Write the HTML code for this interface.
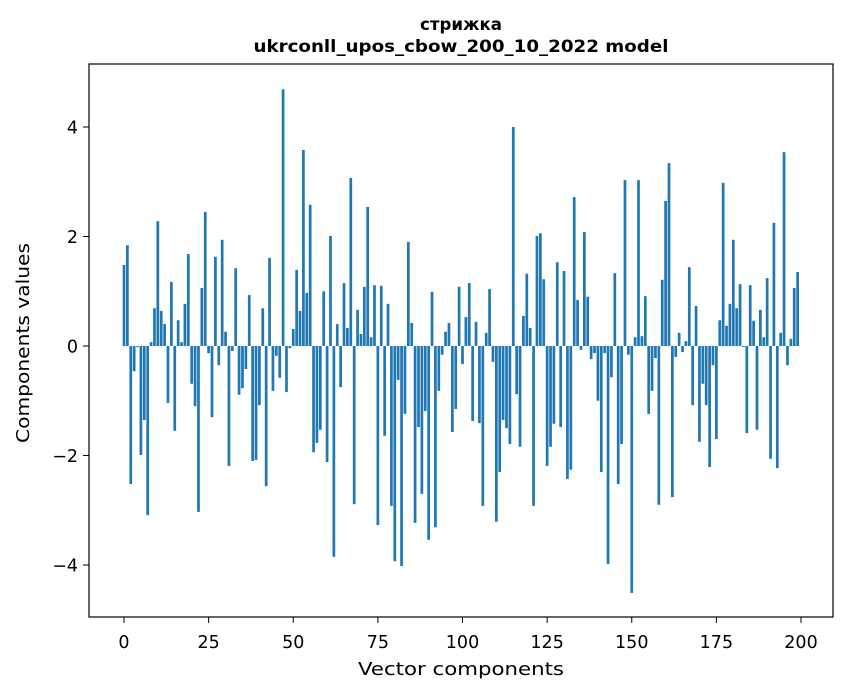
<!DOCTYPE html>
<html><head><meta charset="utf-8"><style>
body{margin:0;background:#fff;width:847px;height:696px;overflow:hidden}
svg{display:block;font-family:"DejaVu Sans","Liberation Sans",sans-serif}
</style></head><body>
<svg id="chart" width="847" height="696">
<text x="461" y="30" text-anchor="middle" font-size="17" font-weight="bold" textLength="82" lengthAdjust="spacingAndGlyphs">стрижка</text>
<text x="461" y="52" text-anchor="middle" font-size="17" font-weight="bold" textLength="415" lengthAdjust="spacingAndGlyphs">ukrconll_upos_cbow_200_10_2022 model</text>
<g id="bars"></g>
<rect x="89" y="64" width="744" height="553" fill="none" stroke="#000" stroke-width="1.2"/>
<g id="xt"></g>
<g id="yt"></g>
<text x="461" y="675" text-anchor="middle" font-size="17.5" textLength="206" lengthAdjust="spacingAndGlyphs">Vector components</text>
<text transform="translate(29,343) rotate(-90)" text-anchor="middle" font-size="17.5" textLength="200" lengthAdjust="spacingAndGlyphs">Components values</text>
</svg>
<script>
const values=[1.48,1.84,-2.52,-0.46,-0.02,-1.99,-1.35,-3.09,0.07,0.69,
2.28,0.64,0.40,-1.04,1.17,-1.55,0.47,0.07,0.77,1.68,
-0.69,-1.10,-3.03,1.06,2.45,-0.13,-1.30,1.63,-0.35,1.94,
0.26,-2.19,-0.09,1.42,-0.89,-0.77,-0.42,0.93,-2.10,-2.08,
-1.08,0.69,-2.56,1.61,-0.82,-0.18,-0.58,4.69,-0.84,-0.04,
0.31,1.39,0.64,3.58,0.97,2.58,-1.94,-1.77,-1.53,1.00,
-2.12,2.01,-3.85,0.40,-0.75,1.15,0.33,3.07,-2.89,0.66,
0.22,1.08,2.54,0.16,1.11,-3.27,1.10,-1.64,0.77,-2.92,
-3.93,-0.62,-4.02,-1.24,1.90,0.42,-3.23,-1.48,-2.70,-1.19,
-3.54,0.99,-3.31,-0.82,-0.16,0.26,0.42,-1.57,-1.15,1.08,
-0.33,0.53,1.15,-1.37,0.44,-1.41,-2.92,0.24,1.04,-0.29,
-3.21,-2.30,-1.35,-1.50,-1.79,4.00,-0.88,-1.84,0.55,1.32,
0.33,-2.92,2.01,2.06,1.22,-2.19,-1.84,-1.42,1.53,-1.48,
1.37,-2.43,-2.26,2.72,0.84,-0.07,2.08,0.90,-0.24,-0.13,
-1.00,-2.30,-0.13,-3.98,-0.57,1.33,-2.52,-1.79,3.03,-0.16,
-4.51,0.16,3.03,0.18,0.91,-1.24,-0.82,-0.22,-2.90,1.21,
2.65,3.34,-2.76,-0.20,0.24,-0.11,0.09,1.44,-1.08,0.73,
-1.75,-0.69,-1.08,-2.21,-0.35,-1.70,0.47,2.98,0.37,0.77,
1.94,0.69,1.13,-0.02,-1.59,1.11,0.46,-1.53,0.66,0.16,
1.24,-2.06,2.25,-2.23,0.24,3.54,-0.35,0.13,1.06,1.35];
const xTicks=[0,25,50,75,100,125,150,175,200];
const yTicks=[-4,-2,0,2,4];
const NS="http://www.w3.org/2000/svg";
function xs(v){return 124+v*(801-124)/200;}
function ys(v){return 346-v*(346-127)/4;}
const bars=document.getElementById('bars');
values.forEach((v,i)=>{
 const r=document.createElementNS(NS,'rect');
 const w=0.8*(801-124)/200;
 r.setAttribute('x',xs(i)-w/2);
 r.setAttribute('width',w);
 r.setAttribute('y',Math.min(ys(v),ys(0)));
 r.setAttribute('height',Math.abs(ys(v)-ys(0)));
 r.setAttribute('fill','#1f77b4');
 
 
 bars.appendChild(r);
});
const xt=document.getElementById('xt');
xTicks.forEach(t=>{
 const l=document.createElementNS(NS,'line');
 l.setAttribute('x1',xs(t));l.setAttribute('x2',xs(t));
 l.setAttribute('y1',617);l.setAttribute('y2',623);l.setAttribute('stroke','#000');
 
 
 xt.appendChild(l);
 const s=document.createElementNS(NS,'text');
 s.setAttribute('x',xs(t));s.setAttribute('y',648);
 s.setAttribute('text-anchor','middle');s.setAttribute('font-size','17.5');
 s.textContent=t;
 
 
 xt.appendChild(s);
});
const yt=document.getElementById('yt');
yTicks.forEach(t=>{
 const l=document.createElementNS(NS,'line');
 l.setAttribute('x1',83);l.setAttribute('x2',89);
 l.setAttribute('y1',ys(t));l.setAttribute('y2',ys(t));l.setAttribute('stroke','#000');
 
 
 yt.appendChild(l);
 const s=document.createElementNS(NS,'text');
 s.setAttribute('x',78);s.setAttribute('y',ys(t)+6.5);
 s.setAttribute('text-anchor','end');s.setAttribute('font-size','17.5');
 s.textContent=t<0?'\u2212'+(-t):t;
 
 
 yt.appendChild(s);
});
</script>
</body></html>
